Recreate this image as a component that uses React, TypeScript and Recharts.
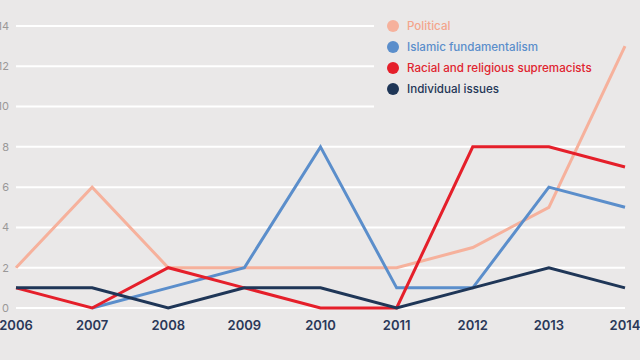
import { LineChart, Line, XAxis, YAxis, CartesianGrid } from 'recharts'

const years = ['2006', '2007', '2008', '2009', '2010', '2011', '2012', '2013', '2014']
const political = [2, 6, 2, 2, 2, 2, 3, 5, 13]
const islamic = [null, 0, 1, 2, 8, 1, 1, 6, 5]
const racial = [1, 0, 2, 1, 0, 0, 8, 8, 7]
const individual = [1, 1, 0, 1, 1, 0, 1, 2, 1]
const yTicks = [0, 2, 4, 6, 8, 10, 12, 14]

const series = [
  { key: 'political', name: 'Political', color: '#f6b19c', text: '#f4a58c' },
  { key: 'islamic', name: 'Islamic fundamentalism', color: '#5b8ecb', text: '#5b8ecb' },
  { key: 'racial', name: 'Racial and religious supremacists', color: '#e51f2a', text: '#e0242f' },
  { key: 'individual', name: 'Individual issues', color: '#1f3657', text: '#1f3657' },
]

const data = years.map((year, i) => ({
  year,
  political: political[i],
  islamic: islamic[i],
  racial: racial[i],
  individual: individual[i],
}))

const BG = '#eae8e8'

// gridlines under the legend block are left out
function GridLine(props: any) {
  const { x1, x2, y1, y2 } = props
  const end = y1 < 115 ? Math.min(x2, 374) : x2
  return <line x1={x1} x2={end} y1={y1} y2={y2} stroke="#ffffff" strokeWidth={2} />
}

export default function App() {
  return (
    <div style={{ position: 'fixed', left: 0, top: 0, width: 640, height: 360, background: BG, overflow: 'hidden', fontFamily: 'Inter, sans-serif' }}>
      <LineChart width={640} height={360} data={data} margin={{ top: 26, right: 15, left: 0, bottom: 22 }}>
        <CartesianGrid vertical={false} horizontal={GridLine} />
        <XAxis
          dataKey="year"
          tickLine={false}
          axisLine={false}
          tickSize={0}
          tickMargin={13}
          height={30}
          interval={0}
          tick={{ fontSize: 13, fontWeight: 600, fill: '#2a3858' }}
        />
        <YAxis
          domain={[0, 14]}
          ticks={yTicks}
          width={16}
          tickLine={false}
          axisLine={false}
          tickSize={0}
          tickMargin={7}
          tick={{ fontSize: 11, fill: '#9a9898' }}
        />
        {series.map((s) => (
          <Line
            key={s.key}
            dataKey={s.key}
            name={s.name}
            type="linear"
            stroke={s.color}
            strokeWidth={3}
            dot={false}
            activeDot={false}
            connectNulls={false}
            isAnimationActive={false}
          />
        ))}
      </LineChart>
      <div style={{ position: 'absolute', left: 387, top: 15 }}>
        {series.map((s) => (
          <div key={s.key} style={{ display: 'flex', alignItems: 'center', height: 21 }}>
            <span style={{ width: 12, height: 12, borderRadius: 6, background: s.color, marginRight: 8 }} />
            <span style={{ fontSize: 11.6, fontWeight: 500, color: s.text }}>{s.name}</span>
          </div>
        ))}
      </div>
    </div>
  )
}
